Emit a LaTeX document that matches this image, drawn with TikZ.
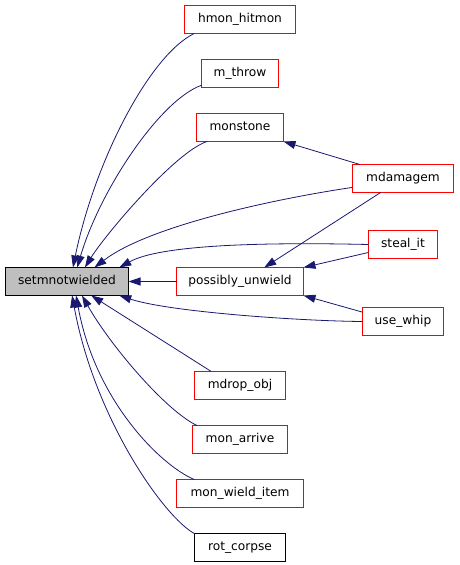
\documentclass[tikz,border=0pt]{standalone}
\usepackage{fontspec}
\setmainfont{DejaVu Sans}
\usetikzlibrary{arrows.meta, positioning}
\definecolor{edgeblue}{HTML}{191970}
\definecolor{fnred}{HTML}{FF0000}
\definecolor{fngray}{HTML}{BFBFBF}

\begin{document}
\begin{tikzpicture}[x=1pt, y=-1pt,
    fn/.style={rectangle, draw=fnred, line width=1.5pt, inner xsep=0pt, outer sep=0pt,
        minimum height=28pt, text height=9.5pt, text depth=3pt,
        font=\fontsize{12.2}{14}\selectfont},
    leaf/.style={fn, draw=black, line width=1pt},
    call/.style={draw=edgeblue, line width=0.8pt, -{Triangle[length=12pt, width=8pt]}}]
    \useasboundingbox (0,0) rectangle (459,565);

    % Nodes
    \node [leaf, fill=fngray, minimum width=123pt] (setm) at (67,281.5) {setmnotwielded};
    \node [fn, minimum width=127pt, right=48pt of setm] (unwield) {possibly\_unwield};
    \node [fn, minimum width=87pt, above=126pt of unwield] (monstone) {monstone};
    \node [fn, minimum width=77pt, above=26pt of monstone] (mthrow) {m\_throw};
    \node [fn, minimum width=111pt, above=26pt of mthrow] (hitmon) {hmon\_hitmon};
    \node [fn, minimum width=91pt, below=76pt of unwield] (mdrop) {mdrop\_obj};
    \node [fn, minimum width=95pt, below=26pt of mdrop] (arrive) {mon\_arrive};
    \node [fn, minimum width=127pt, below=26pt of arrive] (wielditem) {mon\_wield\_item};
    \node [leaf, minimum width=91pt, below=26pt of wielditem] (rotcorpse) {rot\_corpse};
    \node [fn, minimum width=101pt] (damagem) at (403,178.5) {mdamagem};
    \node [fn, minimum width=69pt, below=38pt of damagem] (stealit) {steal\_it};
    \node [fn, minimum width=81pt, below=49pt of stealit] (usewhip) {use\_whip};

    % Edges
    \draw [call] (hitmon.197) .. controls (150,55) and (95,160) .. (setm.67);
    \draw [call] (mthrow.197) .. controls (160,100) and (100,190) .. (setm.54);
    \draw [call] (monstone.203) .. controls (175,152) and (105,235) .. (setm.38);
    \draw [call] (damagem.190) .. controls (280,198) and (150,225) .. (setm.27);
    \draw [call] (stealit.180) .. controls (260,242) and (160,245) .. (setm.15);
    \draw [call] (unwield) -- (setm);
    \draw [call] (usewhip.180) .. controls (300,321) and (170,312) .. (setm.-15);
    \draw [call] (mdrop.154) -- (setm.-30);
    \draw [call] (arrive.162) .. controls (165,410) and (110,345) .. (setm.-43);
    \draw [call] (wielditem.163) .. controls (160,465) and (95,400) .. (setm.-57);
    \draw [call] (rotcorpse.163) .. controls (165,518) and (95,420) .. (setm.-70);
    \draw [call] (damagem.162) -- (monstone.south east);
    \draw [call] (damagem.212) -- (unwield.30);
    \draw [call] (stealit.193) -- (unwield.north east);
    \draw [call] (usewhip.167) -- (unwield.south east);
\end{tikzpicture}
\end{document}
